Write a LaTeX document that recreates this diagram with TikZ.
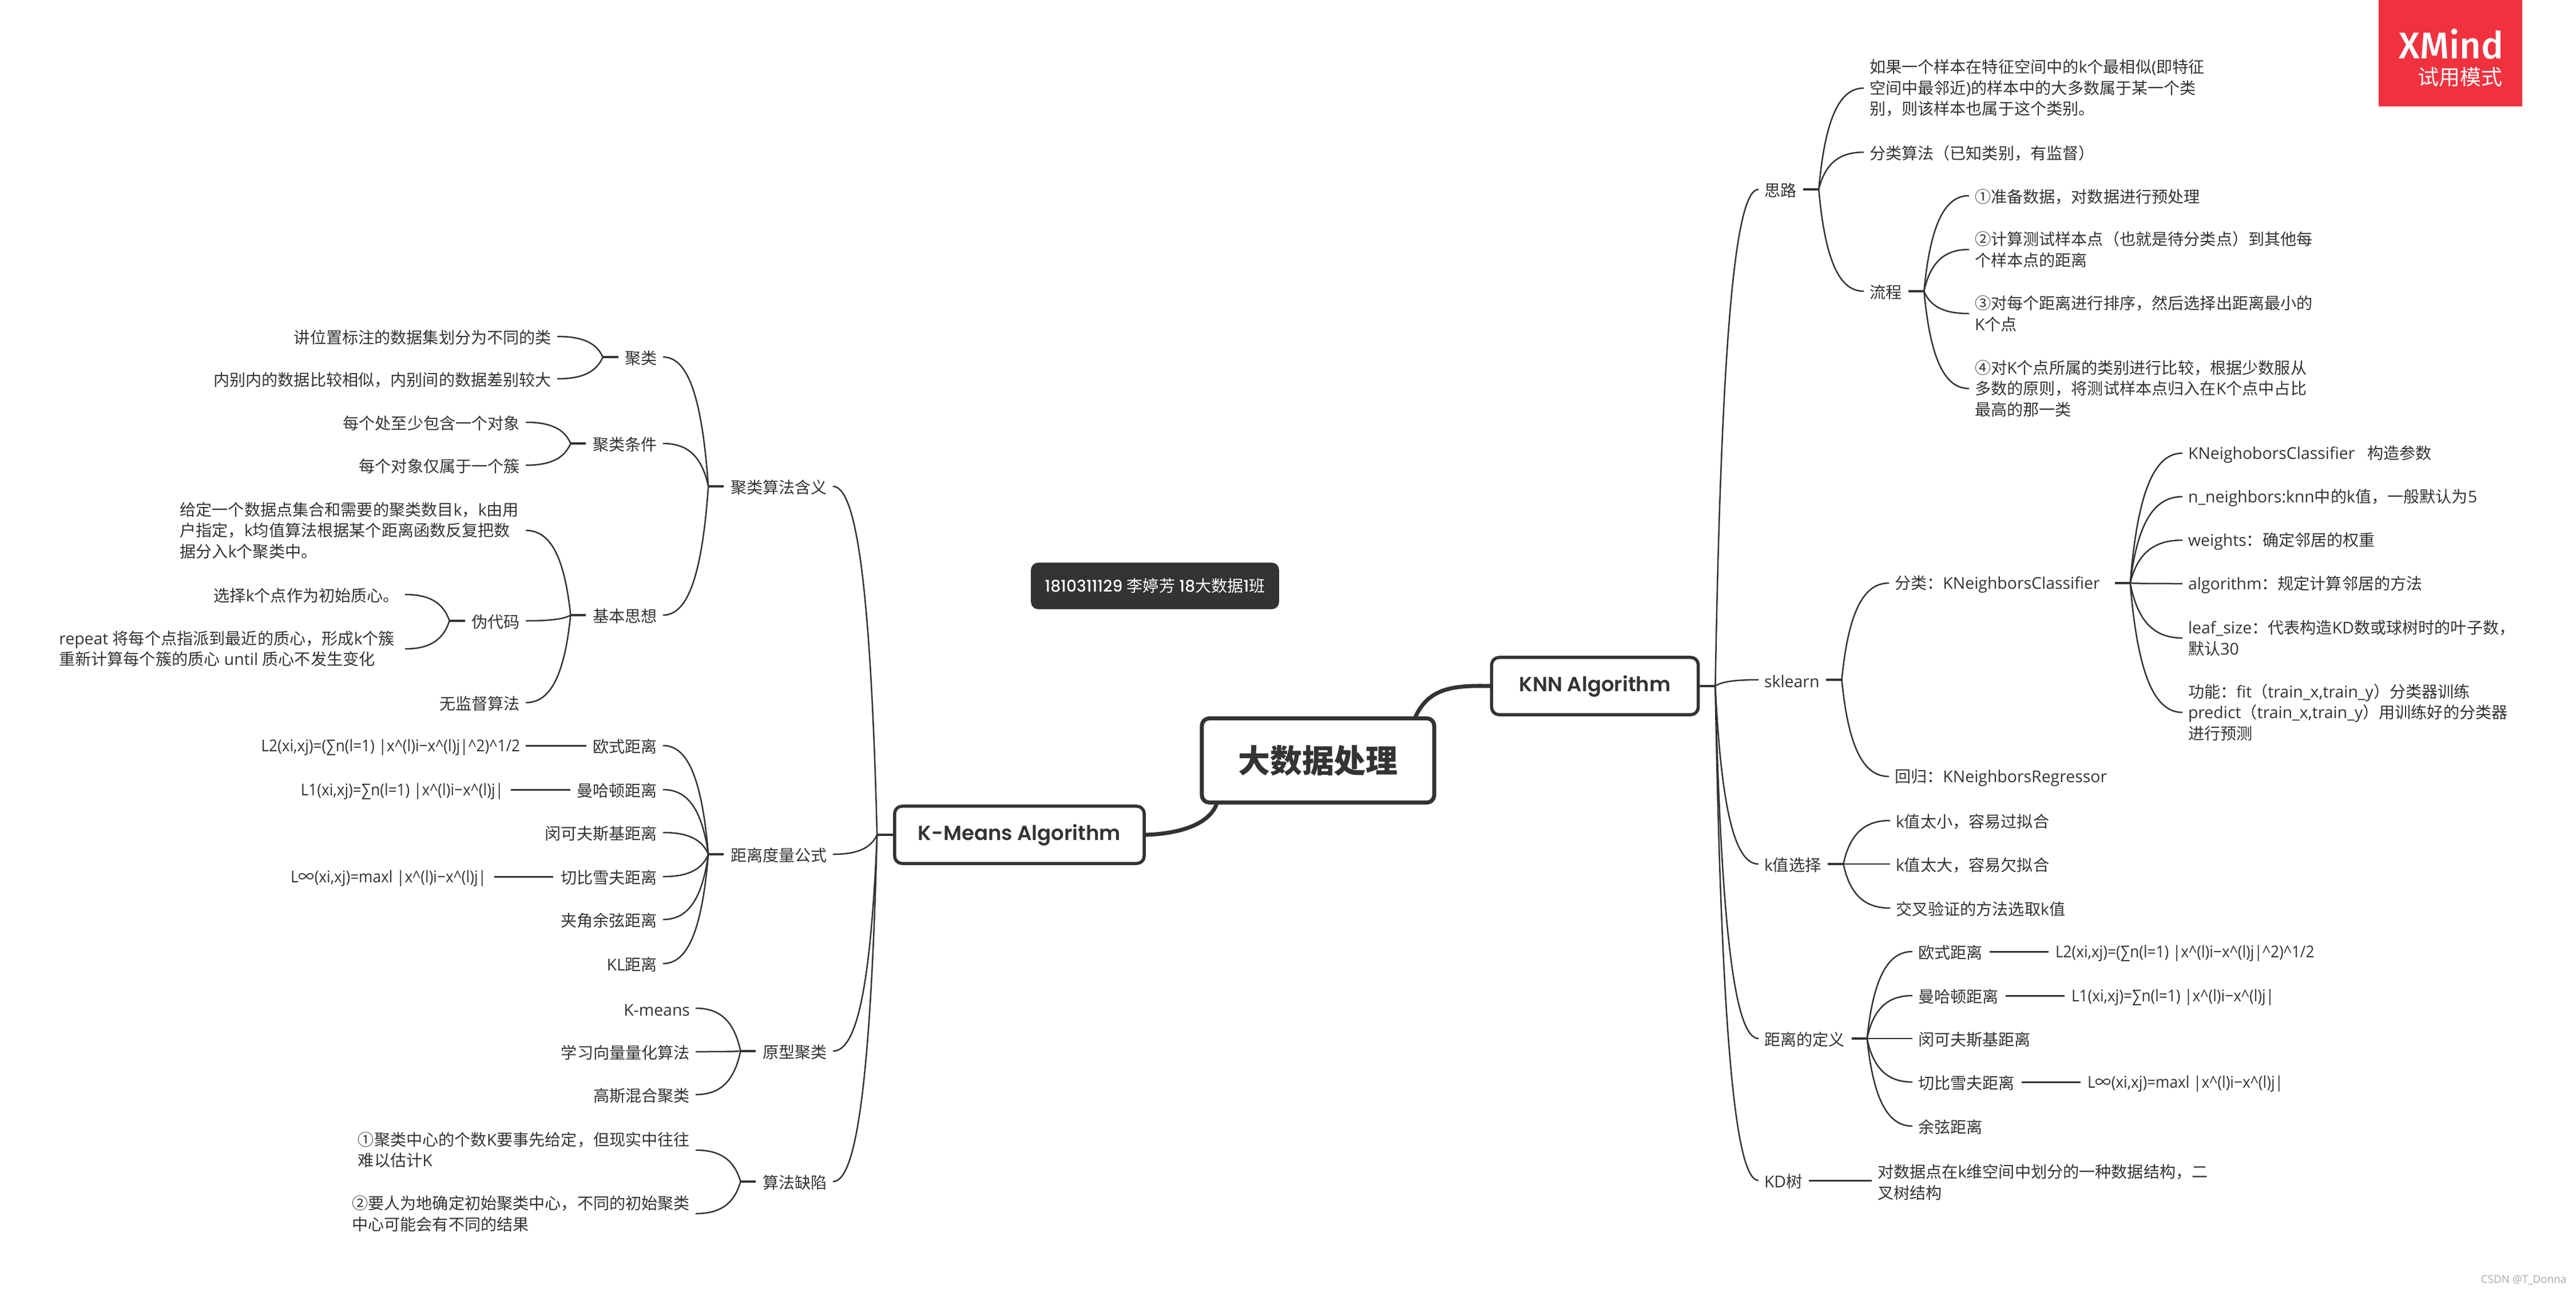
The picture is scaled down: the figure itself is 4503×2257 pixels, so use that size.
\documentclass[tikz,border=0pt]{standalone}
\usepackage{fontspec}
\usetikzlibrary{calc}
\setmainfont{Open Sans}[Scale=1.01]
\newfontfamily\latb{Open Sans}[Scale=1.01]
\newfontfamily\frm{Open Sans}[Scale=1.01,FakeStretch=0.92]
\newfontfamily\cjk{Noto Sans CJK SC}
\newfontfamily\cjkh{Noto Sans CJK SC Black}
\newfontfamily\cjkm{Noto Sans CJK SC Medium}
\newfontfamily\ttl{Poppins SemiBold}
\newfontfamily\nttl{Poppins Medium}
\newfontfamily\logo{Fira Sans Medium}
\definecolor{ink}{HTML}{333333}
\definecolor{logored}{HTML}{F0323F}
\definecolor{wm}{HTML}{A8A8A8}
\let\curlat\latb
\newcommand\lat{\curlat}
\XeTeXinterchartokenstate=1
\newXeTeXintercharclass\cjkcls
\newcount\ccnt
\ccnt="3000 \loop \XeTeXcharclass\ccnt=\cjkcls \advance\ccnt 1 \ifnum\ccnt<"A000 \repeat
\ccnt="FF00 \loop \XeTeXcharclass\ccnt=\cjkcls \advance\ccnt 1 \ifnum\ccnt<"FFF0 \repeat
\ccnt="2460 \loop \XeTeXcharclass\ccnt=\cjkcls \advance\ccnt 1 \ifnum\ccnt<"2500 \repeat
\XeTeXinterchartoks 0 \cjkcls={\cjk}
\XeTeXinterchartoks \cjkcls 0={\lat}
\XeTeXinterchartoks 4095 \cjkcls={\cjk}
\XeTeXinterchartoks \cjkcls 4095={\lat}
\newcommand\vstr{\rule[-0.01cm]{0pt}{0.29cm}}
\tikzset{
  base/.style={inner sep=0pt,outer sep=0pt,text=ink,align=left,
    font=\fontsize{8.0}{10.38}\selectfont,
    execute at begin node=\vstr, execute at end node=\vstr},
  wt/.style={base,anchor=west},
  et/.style={base,anchor=east},
  kid/.style={draw=ink,line width=0.025cm},
  stub/.style={draw=ink,line width=0.045cm},
  mid/.style={draw=ink,line width=0.03cm},
  trunk/.style={draw=ink,line width=0.07cm,line cap=round},
  topic/.style={draw=ink,line width=0.055cm,fill=white,rounded corners=0.13cm,
    inner sep=0pt,text=ink,font=\fontsize{10.1}{12}\ttl},
}
\newcommand\jR[2][12]{\coordinate (#2j) at ([xshift=#1*0.01cm+0.27cm]#2.east);
  \draw[stub] ([xshift=#1*0.01cm]#2.east) -- (#2j);}
\newcommand\jL[2][12]{\coordinate (#2j) at ([xshift=-#1*0.01cm-0.27cm]#2.west);
  \draw[stub] ([xshift=-#1*0.01cm]#2.west) -- (#2j);}
\newcommand\cvv[2]{\draw[kid] let \p1=(#1), \p2=(#2) in (\p1) .. controls ({\x1+0.15*(\x2-\x1)},{\y1+0.75*(\y2-\y1)}) and ({\x1+0.5*(\x2-\x1)},\y2) .. (\p2);}
\newcommand\cR[3][10]{\cvv{#2}{[xshift=-#1*0.01cm]#3.west}}
\newcommand\cL[3][10]{\cvv{#2}{[xshift=#1*0.01cm]#3.east}}
\begin{document}
\begin{tikzpicture}[x=0.01cm,y=-0.01cm]
\useasboundingbox (0,0) rectangle (4503,2257);
% logo
\fill[logored] (4158,0) rectangle (4409,186);
\node[anchor=east,inner sep=0pt,text=white,font=\fontsize{18.5}{20}\logo] (xm) at (4377,77) {XMind};
\node[anchor=east,inner sep=0pt,text=white,font=\fontsize{10.5}{12}\selectfont] (tr) at (4375,135) {\cjkm 试用模式};
% central
\node[topic,minimum width=4.06cm,minimum height=1.47cm,line width=0.07cm] (root) at (2304,1329) {\XeTeXinterchartokenstate=0 \fontsize{15.9}{18}\cjkh 大数据处理\hspace{0.04cm}};
\node[topic,minimum width=3.61cm,minimum height=1.0cm] (knn) at (2788,1199) {\raisebox{-0.04cm}{KNN Algorithm}};
\node[topic,minimum width=4.36cm,minimum height=1.0cm] (km) at (1782,1459) {\raisebox{-0.03cm}{K-Means Algorithm}};
\node[draw=ink,fill=ink,rounded corners=0.12cm,minimum width=4.32cm,minimum height=0.8cm,inner sep=0pt,text=white,font=\fontsize{8.0}{10}\selectfont] (note) at (2019,1024) {\let\curlat\nttl\nttl\raisebox{-0.03cm}{1810311129 李婷芳 18大数据1班}};
% right branches
\node[wt] (si) at (3084,331) {思路};
\node[wt] (si1) at (3268,154) {如果一个样本在特征空间中的k个最相似(即特征\\空间中最邻近)的样本中的大多数属于某一个类\\别，则该样本也属于这个类别。};
\node[wt] (si2) at (3268,266) {分类算法（已知类别，有监督）};
\node[wt] (si3) at (3268,509) {流程};
\node[wt] (lc1) at (3452,342) {①准备数据，对数据进行预处理};
\node[wt] (lc2) at (3452,436) {②计算测试样本点（也就是待分类点）到其他每\\个样本点的距离};
\node[wt] (lc3) at (3452,548) {③对每个距离进行排序，然后选择出距离最小的\\K个点};
\node[wt] (lc4) at (3452,679) {④对K个点所属的类别进行比较，根据少数服从\\多数的原则，将测试样本点归入在K个点中占比\\最高的那一类};
\node[wt] (sk) at (3084,1188) {sklearn};
\node[wt] (fl) at (3312,1019) {分类：KNeighborsClassifier};
\node[wt] (hg) at (3312,1357) {回归：KNeighborsRegressor};
\node[wt] (f1) at (3825,792) {KNeighoborsClassifier\hspace{0.22cm}构造参数};
\node[wt] (f2) at (3825,868) {n\_neighbors:knn中的k值，一般默认为5};
\node[wt] (f3) at (3825,944) {weights：确定邻居的权重};
\node[wt] (f4) at (3825,1020) {algorithm：规定计算邻居的方法};
\node[wt] (f5) at (3825,1115) {leaf\_size：代表构造KD数或球树时的叶子数，\\默认30};
\node[wt] (f6) at (3825,1245) {功能：fit（train\_x,train\_y）分类器训练\\predict（train\_x,train\_y）用训练好的分类器\\进行预测};
\node[wt] (kx) at (3084,1510) {k值选择};
\node[wt] (kx1) at (3314,1434) {k值太小，容易过拟合};
\node[wt] (kx2) at (3314,1510) {k值太大，容易欠拟合};
\node[wt] (kx3) at (3314,1587) {交叉验证的方法选取k值};
\node[wt] (jl) at (3084,1815) {距离的定义};
\node[wt] (jl1) at (3353,1663) {欧式距离};
\node[wt] (jl2) at (3353,1740) {曼哈顿距离};
\node[wt] (jl3) at (3353,1815) {闵可夫斯基距离};
\node[wt] (jl4) at (3353,1891) {切比雪夫距离};
\node[wt] (jl5) at (3353,1968) {余弦距离};
\node[wt] (rf1) at (3593,1663) {\frm L2(xi,xj)=(∑n(l=1) |x\^{}(l)i−x\^{}(l)j|\^{}2)\^{}1/2};
\node[wt] (rf2) at (3621,1740) {\frm L1(xi,xj)=∑n(l=1) |x\^{}(l)i−x\^{}(l)j|};
\node[wt] (rf4) at (3649,1891) {\frm L{\cjk ∞}(xi,xj)=maxl |x\^{}(l)i−x\^{}(l)j|};
\node[wt] (kd) at (3084,2063) {KD树};
\node[wt] (kd1) at (3282,2066) {对数据点在k维空间中划分的一种数据结构，二\\叉树结构};
% left branches
\node[et] (ha) at (1446,850) {聚类算法含义};
\node[et] (ju) at (1149,624) {聚类};
\node[et] (ju1) at (964,588) {讲位置标注的数据集划分为不同的类};
\node[et] (ju2) at (964,662) {内别内的数据比较相似，内别间的数据差别较大};
\node[et] (tj) at (1149,775) {聚类条件};
\node[et] (tj1) at (909,738) {每个处至少包含一个对象};
\node[et] (tj2) at (909,813) {每个对象仅属于一个簇};
\node[et] (jb) at (1149,1075) {基本思想};
\node[et] (jb1) at (907,927) {给定一个数据点集合和需要的聚类数目k，k由用\\户指定，k均值算法根据某个距离函数反复把数\\据分入k个聚类中。};
\node[et] (wd) at (909,1085) {伪代码};
\node[et] (wd1) at (698,1039) {选择k个点作为初始质心。};
\node[et] (wd2) at (690,1134) {repeat 将每个点指派到最近的质心，形成k个簇\\重新计算每个簇的质心 until 质心不发生变化};
\node[et] (jb3) at (909,1228) {无监督算法};
\node[et] (dl) at (1446,1493) {距离度量公式};
\node[et] (dl1) at (1149,1303) {欧式距离};
\node[et] (dl2) at (1149,1380) {曼哈顿距离};
\node[et] (dl3) at (1149,1455) {闵可夫斯基距离};
\node[et] (dl4) at (1149,1532) {切比雪夫距离};
\node[et] (dl5) at (1149,1607) {夹角余弦距离};
\node[et] (dl6) at (1149,1684) {KL距离};
\node[et] (lf1) at (909,1303) {\frm L2(xi,xj)=(∑n(l=1) |x\^{}(l)i−x\^{}(l)j|\^{}2)\^{}1/2};
\node[et] (lf2) at (880,1380) {\frm L1(xi,xj)=∑n(l=1) |x\^{}(l)i−x\^{}(l)j|};
\node[et] (lf4) at (850,1532) {\frm L{\cjk ∞}(xi,xj)=maxl |x\^{}(l)i−x\^{}(l)j|};
\node[et] (yx) at (1446,1837) {原型聚类};
\node[et] (yx1) at (1206,1762) {K-means};
\node[et] (yx2) at (1206,1838) {学习向量量化算法};
\node[et] (yx3) at (1206,1913) {高斯混合聚类};
\node[et] (qx) at (1446,2065) {算法缺陷};
\node[et] (qx1) at (1206,2010) {①聚类中心的个数K要事先给定，但现实中往往\\难以估计K};
\node[et] (qx2) at (1206,2121) {②要人为地确定初始聚类中心，不同的初始聚类\\中心可能会有不同的结果};
% watermark
\node[anchor=east,inner sep=0pt,text=wm,font=\fontsize{5.3}{6}\selectfont] (wmk) at (4487,2237) {CSDN @T\_Donna};
% connectors: main
\draw[trunk] ([xshift=-0.36cm]root.north east) .. controls (2497,1205) and (2535,1197) .. (knn.west);
\draw[trunk] ([xshift=0.29cm]root.south west) .. controls (2112,1442) and (2060,1457) .. (km.east);
% KNN
\coordinate (knnj) at ([xshift=0.27cm]knn.east);
\draw[stub] (knn.east) -- (knnj);
\cR{knnj}{si}\cR{knnj}{sk}\cR{knnj}{kx}\cR{knnj}{jl}\cR{knnj}{kd}
\jR{si}\cR{sij}{si1}\cR{sij}{si2}\cR{sij}{si3}
\jR{si3}\cR{si3j}{lc1}\cR{si3j}{lc2}\cR{si3j}{lc3}\cR{si3j}{lc4}
\jR{sk}\cR{skj}{fl}\cR{skj}{hg}
\jR[26]{fl}\cR{flj}{f1}\cR{flj}{f2}\cR{flj}{f3}\cR{flj}{f4}\cR{flj}{f5}\cR{flj}{f6}
\jR{kx}\cR{kxj}{kx1}\cR{kxj}{kx2}\cR{kxj}{kx3}
\jR{jl}\cR{jlj}{jl1}\cR{jlj}{jl2}\cR{jlj}{jl3}\cR{jlj}{jl4}\cR{jlj}{jl5}
\draw[mid] ([xshift=0.12cm]jl1.east) -- ([xshift=-0.12cm]rf1.west);
\draw[mid] ([xshift=0.12cm]jl2.east) -- ([xshift=-0.12cm]rf2.west);
\draw[mid] ([xshift=0.12cm]jl4.east) -- ([xshift=-0.12cm]rf4.west);
\draw[mid] ([xshift=0.12cm]kd.east) -- ([xshift=-0.1cm]kd.east-|kd1.west);
% K-Means
\coordinate (kmj) at ([xshift=-0.28cm]km.west);
\draw[stub] (km.west) -- (kmj);
\cL{kmj}{ha}\cL{kmj}{dl}\cL{kmj}{yx}\cL{kmj}{qx}
\jL{ha}\cL{haj}{ju}\cL{haj}{tj}\cL{haj}{jb}
\jL{ju}\cL{juj}{ju1}\cL{juj}{ju2}
\jL{tj}\cL{tjj}{tj1}\cL{tjj}{tj2}
\jL{jb}\cL[12]{jbj}{jb1}\cL{jbj}{wd}\cL{jbj}{jb3}
\jL{wd}\cL{wdj}{wd1}\cL[18]{wdj}{wd2}
\jL{dl}\cL{dlj}{dl1}\cL{dlj}{dl2}\cL{dlj}{dl3}\cL{dlj}{dl4}\cL{dlj}{dl5}\cL{dlj}{dl6}
\draw[mid] ([xshift=-0.11cm]dl1.west) -- ([xshift=0.1cm]lf1.east);
\draw[mid] ([xshift=-0.11cm]dl2.west) -- ([xshift=0.13cm]lf2.east);
\draw[mid] ([xshift=-0.13cm]dl4.west) -- ([xshift=0.14cm]lf4.east);
\jL{yx}\cL{yxj}{yx1}\cL{yxj}{yx2}\cL{yxj}{yx3}
\jL{qx}\cL{qxj}{qx1}\cL{qxj}{qx2}
\end{tikzpicture}
\end{document}
